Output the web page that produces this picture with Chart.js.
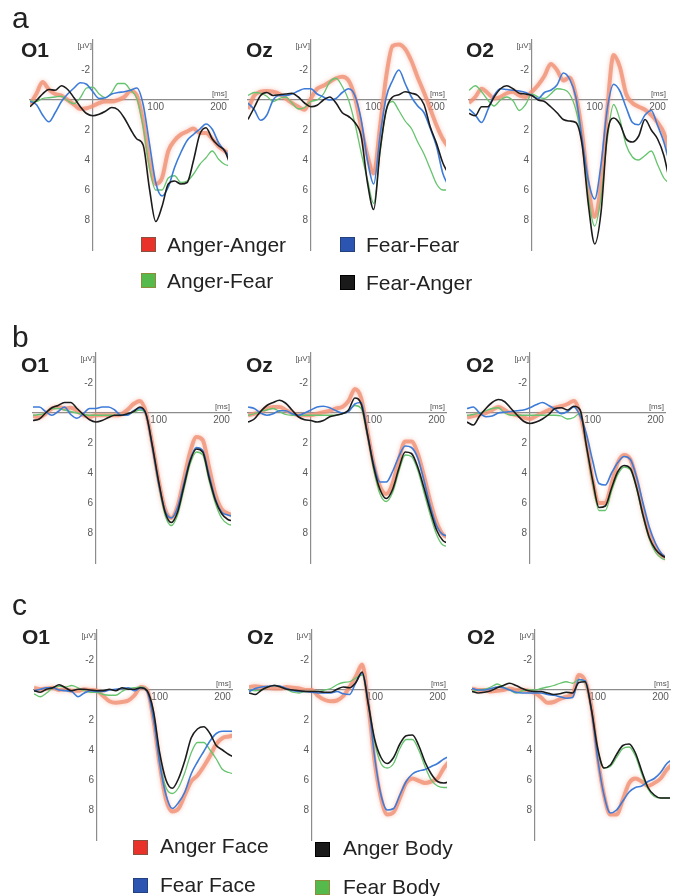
<!DOCTYPE html>
<html lang="en">
<head>
<meta charset="UTF-8">
<title>ERP waveforms at O1, Oz and O2</title>
<script src="https://cdn.jsdelivr.net/npm/chart.js"></script>
<style>
    body {
        margin: 0;
        background: #fff;
        font-family: "Liberation Sans", Arial, sans-serif;
    }
    #figure {
        position: relative;
        width: 677px;
        height: 896px;
        overflow: hidden;
    }
    #figure canvas {
        position: absolute;
    }
    .txt {
        position: absolute;
        line-height: 1;
        white-space: nowrap;
        color: #222;
    }
    .letter { font-size: 30px; }
    .site { font-size: 21px; font-weight: bold; }
    .leg { font-size: 21px; }
    .swatch {
        position: absolute;
        width: 13px;
        height: 13px;
        border: 1px solid;
    }
</style>
</head>
<body>
<div id="figure"></div>

<script>
// time axis (ms), shared by every panel
const times = [-100, -90, -80, -70, -60, -50, -40, -30, -20, -10, 0, 10, 20, 30, 40, 50, 60, 70, 80, 90, 100, 110, 120, 130, 140, 150, 160, 170, 180, 190, 200, 210, 220];
const xTicks = [100, 200];
const yTicks = [-2, 2, 4, 6, 8];

// legend labels
const legendA = ['Anger-Anger', 'Fear-Fear', 'Anger-Fear', 'Fear-Anger'];
const legendC = ['Anger Face', 'Anger Body', 'Fear Face', 'Fear Body'];

// ---- panel a (µV) ----
const aO1Red   = [0.3,-0.4,-1.2,-0.7,-0.4,-0.3,0,0.3,0.6,0.55,0.4,0.2,0.1,0.1,0,-0.2,-0.6,-0.3,1.4,4.1,5.6,5.2,3.4,2.7,2.3,2.1,1.9,2.2,2.2,2.6,3.1,3.4,3.7];
const aO1Blue  = [0.1,0.3,1.0,1.45,0.85,0.1,-0.4,-0.8,-1.15,-1.05,-0.55,-0.1,-0.15,-0.4,-0.5,-0.55,-0.65,-0.8,0.3,2.9,5.5,6.4,5.8,4.5,3.5,2.7,2.3,1.95,1.6,1.95,2.85,3.4,3.9];
const aO1Green = [0.05,0.1,-0.1,-0.15,-0.2,-0.25,0.05,0.25,-0.15,-0.8,-0.85,-0.4,-0.15,-0.5,-1.1,-1.1,-0.65,-0.1,1.8,4.5,6.0,6.0,5.2,5.05,5.5,5.4,4.95,4.3,3.85,3.4,3.95,4.3,4.4];
const aO1Black = [0.45,0.05,-0.4,-0.7,-0.65,-0.95,-0.7,-0.15,0.45,0.9,1.05,0.95,0.75,0.5,0.65,1.2,1.95,2.6,3.0,5.9,8.1,7.1,5.6,5.4,5.6,5.5,4.05,2.3,1.85,2.6,3.05,3.4,4.5];

const aOzRed   = [0.6,-0.3,-0.55,-0.6,-0.55,-0.4,-0.1,0.2,0.45,0.65,-0.1,-0.75,-0.95,-1.2,-1.45,-1.55,-1.3,-0.2,1.8,3.7,4.9,1.8,-1.6,-3.6,-3.7,-3.4,-2.6,-1.5,-0.5,0.6,1.7,2.6,3.2];
const aOzBlue  = [0.2,0.65,1.35,1.0,0,-0.3,-0.3,-0.4,-0.6,-0.75,-0.75,-0.4,-0.2,0,-0.1,-0.5,-0.75,-0.3,1.3,4.0,5.6,2.4,-0.2,-1.3,-2.0,-1.1,-0.2,0.4,0.85,1.9,3.1,4.9,5.8];
const aOzGreen = [-0.3,-0.5,-0.45,-0.25,0.1,-0.1,-0.2,0.2,0.6,0.5,0.1,0,-0.4,-1.2,-1.45,-0.9,0,1.55,3.5,5.3,6.9,3.5,0.7,0.1,0.7,1.4,1.9,2.8,3.6,4.6,5.6,6.0,6.0];
const aOzBlack = [1.3,0.5,-0.3,-0.5,-0.3,-0.35,-0.4,-0.45,-0.2,0.2,0.45,0.35,0,-0.2,0.2,0.85,1.1,1.5,2.4,5.5,7.3,3.4,0.65,-0.2,-0.35,-0.55,-0.45,-0.3,0.3,1.8,2.9,4.2,5.0];

const aO2Red   = [0.2,-0.2,-0.75,-0.45,-0.1,-0.2,-0.45,-0.55,-0.3,-0.2,-0.55,-1.0,-1.6,-2.4,-2.0,-1.3,-1.5,-0.3,2.2,5.8,7.8,5.6,0.6,-3.0,-2.2,-0.4,0.2,0.45,0.65,1.0,1.5,2.2,3.7];
const aO2Blue  = [0.6,1.0,1.5,0.65,-0.3,-0.75,-0.7,-0.65,-0.6,-0.5,-0.3,-0.1,-0.5,-0.65,-1.0,-1.8,-1.4,-0.2,2.6,5.4,6.6,4.3,0.6,-1.05,-0.6,0.5,1.5,1.65,1.0,0.7,1.7,2.8,4.4];
const aO2Green = [-0.65,-0.95,-0.55,0,0.4,0,-0.2,0.05,0.7,0.3,-0.4,-0.2,-0.1,-0.4,-0.75,-0.7,-0.4,0.65,2.8,6.5,8.4,6.5,2.6,0.3,1.3,3.0,3.8,4.0,3.7,3.4,4.3,5.2,5.6];
const aO2Black = [0.9,1.05,0.45,0.45,-0.2,-0.75,-0.95,-0.75,-0.45,-0.4,-0.3,0,0.1,0.45,0.85,1.3,1.4,1.5,3.0,7.0,9.6,7.5,2.3,1.2,1.6,2.6,2.8,2.4,1.3,2.0,2.6,3.7,5.6];

// ---- panel b ----
const bO1Red   = [0.2,0.3,0.05,-0.3,-0.4,-0.3,-0.35,-0.15,0.15,0.25,0.15,0.15,0.15,0.15,0.1,-0.2,-0.6,-0.8,0,2.1,4.5,6.4,7.0,6.2,4.4,2.6,1.6,1.8,3.6,5.4,6.4,6.7,6.8];
const bO1Blue  = [-0.4,-0.4,-0.1,0.15,-0.1,-0.4,0.1,0.35,0.05,-0.3,-0.3,-0.4,-0.4,-0.2,0.15,0.15,-0.15,-0.3,0.1,2.3,4.7,6.5,7.0,6.3,4.7,3.1,2.3,2.5,4.1,5.7,6.6,6.8,6.9];
const bO1Green = [0.15,0.1,0,-0.3,-0.3,-0.2,-0.1,0,0.1,0.15,0.15,0.15,0.15,0.15,0.15,0.1,-0.05,-0.2,0.1,2.3,4.8,6.8,7.5,6.8,5.1,3.4,2.6,2.8,4.5,6.0,7.0,7.4,7.5];
const bO1Black = [0.5,0.4,0,-0.35,-0.5,-0.7,-0.7,-0.3,0.1,0.45,0.6,0.5,0.3,0.15,0.15,0.05,-0.1,-0.4,0.1,2.2,4.6,6.6,7.3,6.6,4.9,3.2,2.4,2.6,4.3,5.8,6.7,7.1,7.2];

const bOzRed   = [0.15,0.05,-0.05,-0.3,-0.4,-0.4,-0.2,0,0.15,0.15,0.15,0.05,-0.05,-0.15,-0.3,-0.4,-0.8,-1.6,-1.0,1.2,3.4,4.9,5.4,4.7,3.1,1.9,1.9,2.7,4.2,5.9,7.3,8.1,8.3];
const bOzBlue  = [-0.4,-0.3,0,0.15,0.05,-0.15,-0.15,0.05,0.15,0,-0.2,-0.4,-0.45,-0.35,-0.15,0,-0.1,-0.6,-0.7,1.4,3.4,4.6,4.6,3.9,2.9,2.2,2.3,3.0,4.5,6.2,7.5,8.1,8.2];
const bOzGreen = [0.15,0.05,-0.1,-0.2,-0.3,-0.1,0.1,0.15,0.15,0.15,0.15,0.15,0.15,0.15,0.15,0.05,-0.15,-0.5,-0.3,1.5,3.8,5.4,5.9,5.3,3.9,2.8,2.9,3.8,5.3,6.8,8.1,8.8,8.9];
const bOzBlack = [0.6,0.4,-0.1,-0.5,-0.7,-0.85,-0.65,-0.2,0.25,0.45,0.5,0.6,0.5,0.25,0.15,0.05,-0.2,-1.0,-0.6,1.4,3.6,5.1,5.7,5.1,3.7,2.6,2.7,3.6,5.0,6.5,7.8,8.5,8.7];

const bO2Red   = [0.3,0.2,0.1,0,-0.2,-0.4,-0.2,0.05,0.15,0.3,0.4,0.2,0,-0.2,-0.35,-0.45,-0.6,-0.8,0.1,2.0,4.5,6.0,6.0,4.7,3.3,2.8,3.1,4.5,6.5,8.1,9.0,9.5,9.7];
const bO2Blue  = [-0.3,-0.4,0,0.25,0.2,0,-0.05,-0.1,-0.15,-0.2,-0.35,-0.55,-0.7,-0.5,-0.25,0.05,-0.1,-0.4,0.2,1.4,3.2,4.7,4.8,4.0,3.3,2.9,3.1,4.3,6.0,7.6,8.7,9.4,9.7];
const bO2Green = [0.15,0.1,0,-0.15,-0.3,-0.35,0,0.15,0.15,0.15,0.15,0.15,0.15,0.15,0.15,0.2,0.4,0.3,0.0,2.3,4.7,6.5,6.5,5.2,4.1,3.6,3.8,5.1,6.9,8.4,9.3,9.7,9.8];
const bO2Black = [0.6,0.8,0.2,-0.3,-0.7,-0.9,-0.75,-0.3,0.15,0.55,0.7,0.6,0.4,0.1,-0.3,-0.35,-0.2,-0.45,-0.2,2.2,4.5,6.3,6.2,5.0,3.9,3.5,3.7,5.0,6.8,8.3,9.1,9.5,9.7];

// ---- panel c ----
const cO1Red   = [-0.15,-0.05,-0.1,-0.15,0,-0.05,0.05,0.05,-0.05,0,0.05,0.4,0.75,0.85,0.8,0.7,0.35,-0.2,0,2.0,5.0,7.3,8.1,7.9,7.0,6.1,5.7,5.1,4.4,3.6,3.2,3.1,3.0];
const cO1Blue  = [0.05,-0.05,-0.15,-0.15,0,0.05,0.1,0.45,0.2,0.05,0.1,0.1,0,-0.05,-0.1,-0.15,0.05,-0.15,0.1,1.9,4.9,7.0,7.9,7.5,6.8,5.6,4.8,4.1,3.4,2.9,2.75,2.75,2.75];
const cO1Green = [0.25,0.45,0.2,-0.15,-0.25,-0.2,-0.3,-0.15,0.05,0.15,0.15,0.3,0.35,0.35,0.1,-0.1,-0.15,-0.2,0.05,1.8,4.8,6.5,6.9,6.5,5.5,4.2,3.5,3.5,4.0,4.6,5.3,5.5,5.6];
const cO1Black = [0.05,0.15,-0.05,-0.15,-0.35,-0.15,0.05,-0.05,-0.05,0,0.05,0.05,-0.05,0.05,-0.15,-0.05,-0.05,-0.15,0.05,1.4,4.2,6.0,6.55,5.9,4.7,3.2,2.6,2.45,2.9,3.7,4.0,4.3,4.5];

const cOzRed   = [-0.2,-0.25,-0.2,-0.15,-0.1,-0.1,-0.2,-0.15,-0.1,0,0,0.4,0.65,0.75,0.7,0.4,-0.2,-0.9,-1.7,1.1,4.8,7.2,8.3,8.15,7.2,6.2,5.9,6.05,6.2,6.1,5.9,5.2,4.7];
const cOzBlue  = [0.1,-0.1,-0.2,-0.25,-0.3,-0.25,-0.1,0.05,0.1,0.1,0.15,0.2,0.2,0.2,0.1,0.25,0.3,-0.5,-1.1,0.9,4.5,7.0,8.0,7.9,7.0,6.1,5.6,5.4,5.3,5.1,4.9,4.6,4.4];
const cOzGreen = [0,0.05,0,-0.2,-0.3,-0.25,-0.05,0.15,0.2,0.1,0.1,0.1,0,-0.1,-0.35,-0.5,-0.55,-0.8,-1.0,0.9,3.5,4.9,5.2,4.9,3.9,3.3,3.3,4.0,5.1,6.0,6.4,6.5,6.5];
const cOzBlack = [0.2,0.3,0,-0.2,-0.3,-0.2,-0.05,0,0.05,0.1,0.1,0.1,0.15,0.15,-0.05,-0.2,-0.15,-0.5,-1.2,1.0,3.3,4.5,4.9,4.5,3.6,3.05,3.0,3.7,4.8,5.6,6.1,6.2,6.1];

const cO2Red   = [-0.1,0,0,0.1,0.05,0,-0.1,0,0,0.05,0.2,0.5,0.85,0.8,0.6,0.45,0.3,-1.0,-0.6,1.1,4.5,7.0,8.3,8.3,7.3,6.2,5.9,6.1,6.4,6.2,5.9,5.3,4.9];
const cO2Blue  = [-0.1,0,0,-0.1,-0.2,-0.15,0,0.15,0.2,0.2,0.2,0.2,0.3,0.35,0.45,0.55,0.5,-0.7,-0.6,1.3,4.6,7.0,8.2,8.0,7.4,6.8,6.5,6.4,6.1,5.9,5.5,4.9,4.6];
const cO2Green = [0.1,0,-0.05,-0.2,-0.4,-0.2,0,0.2,0.05,0,0,-0.1,-0.2,-0.3,-0.45,-0.55,-0.45,-0.7,-0.5,1.3,4.0,5.2,5.1,4.5,3.9,3.8,4.4,5.6,6.6,7.1,7.2,7.2,7.2];
const cO2Black = [0.1,0.2,0.15,0.05,-0.15,-0.3,-0.45,-0.3,-0.1,0.05,0.1,0.1,0.2,0.3,0.25,0.15,0.2,-0.5,-0.55,1.3,3.9,5.2,5.0,4.3,3.7,3.6,4.2,5.4,6.5,7.0,7.2,7.2,7.2];

// ---- styling / layout ----
const pad = 14;
const plotW = 198, plotH = 210;
const axisColor = '#8c8c8c';
const tickColor = '#5a5a5a';

// first dataset is drawn on top, so black first and the wide red trace last
const seriesStyles = [
    { color: '#1c1c1c', width: 1.6 },
    { color: '#3d7bd8', width: 1.6 },
    { color: '#66c46e', width: 1.3 },
    { color: 'rgba(241, 145, 118, 0.8)', width: 4 }
];

const panels = [
    { title: 'O1', left: 30,  top: 40,  titleX: 21,  series: [aO1Black, aO1Blue, aO1Green, aO1Red] },
    { title: 'Oz', left: 248, top: 40,  titleX: 246, series: [aOzBlack, aOzBlue, aOzGreen, aOzRed] },
    { title: 'O2', left: 469, top: 40,  titleX: 466, series: [aO2Black, aO2Blue, aO2Green, aO2Red] },
    { title: 'O1', left: 33,  top: 353, titleX: 21,  series: [bO1Black, bO1Blue, bO1Green, bO1Red] },
    { title: 'Oz', left: 248, top: 353, titleX: 246, series: [bOzBlack, bOzBlue, bOzGreen, bOzRed] },
    { title: 'O2', left: 467, top: 353, titleX: 466, series: [bO2Black, bO2Blue, bO2Green, bO2Red] },
    { title: 'O1', left: 34,  top: 630, titleX: 22,  series: [cO1Black, cO1Blue, cO1Green, cO1Red] },
    { title: 'Oz', left: 249, top: 630, titleX: 247, series: [cOzBlack, cOzBlue, cOzGreen, cOzRed] },
    { title: 'O2', left: 472, top: 630, titleX: 467, series: [cO2Black, cO2Blue, cO2Green, cO2Red] }
];
const titleBaselines = { 40: 57, 353: 372, 630: 644 };

Chart.defaults.font.family = '"Liberation Sans", Arial, sans-serif';

const fig = document.getElementById('figure');

function addText(text, cls, left, baseline, size) {
    const d = document.createElement('div');
    d.className = 'txt ' + cls;
    d.textContent = text;
    d.style.left = left + 'px';
    d.style.top = (baseline - 0.8465 * size) + 'px';
    fig.appendChild(d);
}

function addSwatch(left, top, fill, edge) {
    const s = document.createElement('div');
    s.className = 'swatch';
    s.style.left = left + 'px';
    s.style.top = top + 'px';
    s.style.background = fill;
    s.style.borderColor = edge;
    fig.appendChild(s);
}

// [µV] next to the top of the y axis, [ms] at the right end of the x axis
const unitLabels = {
    id: 'unitLabels',
    afterDraw(chart) {
        const { ctx, chartArea, scales: { x, y } } = chart;
        const x0 = x.getPixelForValue(0);
        const y0 = y.getPixelForValue(0);
        ctx.save();
        ctx.font = '8px "Liberation Sans", Arial, sans-serif';
        ctx.fillStyle = '#555';
        ctx.textAlign = 'right';
        ctx.textBaseline = 'top';
        ctx.fillText('[µV]', x0 - 1, chartArea.top + 2);
        ctx.textBaseline = 'bottom';
        ctx.fillText('[ms]', chartArea.right - 1, y0 - 2);
        ctx.restore();
    }
};

// soft halo on the wide red trace, like the blurred print
const redGlow = {
    id: 'redGlow',
    beforeDatasetDraw(chart, args) {
        if (args.index !== 3) return;
        chart.ctx.save();
        chart.ctx.shadowColor = 'rgba(241, 145, 118, 0.6)';
        chart.ctx.shadowBlur = 4;
    },
    afterDatasetDraw(chart, args) {
        if (args.index !== 3) return;
        chart.ctx.restore();
    }
};

function makePanel(p) {
    const canvas = document.createElement('canvas');
    canvas.width = plotW + 2 * pad;
    canvas.height = plotH + 2 * pad;
    canvas.style.left = (p.left - pad) + 'px';
    canvas.style.top = (p.top - pad) + 'px';
    fig.appendChild(canvas);

    new Chart(canvas, {
        type: 'line',
        data: {
            datasets: p.series.map((vals, i) => ({
                data: times.map((t, j) => ({ x: t, y: vals[j] })),
                borderColor: seriesStyles[i].color,
                borderWidth: seriesStyles[i].width,
                pointRadius: 0,
                cubicInterpolationMode: 'monotone',
                fill: false
            }))
        },
        options: {
            responsive: false,
            animation: false,
            events: [],
            layout: { padding: pad },
            plugins: { legend: { display: false }, tooltip: { enabled: false } },
            scales: {
                x: {
                    type: 'linear',
                    min: -100,
                    max: 215,
                    position: { y: 0 },
                    grid: { display: false, drawTicks: false },
                    border: { color: axisColor, width: 1.2 },
                    afterBuildTicks: axis => { axis.ticks = xTicks.map(v => ({ value: v })); },
                    ticks: { color: tickColor, font: { size: 10 }, padding: 1, autoSkip: false, maxRotation: 0 }
                },
                y: {
                    type: 'linear',
                    min: -4,
                    max: 10,
                    reverse: true,
                    position: { x: 0 },
                    grid: { display: false, drawTicks: false },
                    border: { color: axisColor, width: 1.2 },
                    afterBuildTicks: axis => { axis.ticks = yTicks.map(v => ({ value: v })); },
                    ticks: { color: tickColor, font: { size: 10 }, autoSkip: false, callback: v => v + ' ' }
                }
            }
        },
        plugins: [unitLabels, redGlow]
    });

    addText(p.title, 'site', p.titleX, titleBaselines[p.top], 21);
}

panels.forEach(makePanel);

// panel letters
addText('a', 'letter', 12, 28, 30);
addText('b', 'letter', 12, 347, 30);
addText('c', 'letter', 12, 615, 30);

// legend for a
addSwatch(141, 237, '#e8322a', '#8a5040');
addText(legendA[0], 'leg', 167, 252, 21);
addSwatch(340, 237, '#2c55b2', '#24407e');
addText(legendA[1], 'leg', 366, 252, 21);
addSwatch(141, 273, '#55b94c', '#8c8c3a');
addText(legendA[2], 'leg', 167, 288, 21);
addSwatch(340, 275, '#1a1a1a', '#000');
addText(legendA[3], 'leg', 366, 290, 21);

// legend for c
addSwatch(133, 840, '#e8322a', '#8a5040');
addText(legendC[0], 'leg', 160, 853, 21);
addSwatch(315, 842, '#1a1a1a', '#000');
addText(legendC[1], 'leg', 343, 855, 21);
addSwatch(133, 878, '#2c55b2', '#24407e');
addText(legendC[2], 'leg', 160, 892, 21);
addSwatch(315, 880, '#55b94c', '#8c8c3a');
addText(legendC[3], 'leg', 343, 894, 21);
</script>
</body>
</html>
